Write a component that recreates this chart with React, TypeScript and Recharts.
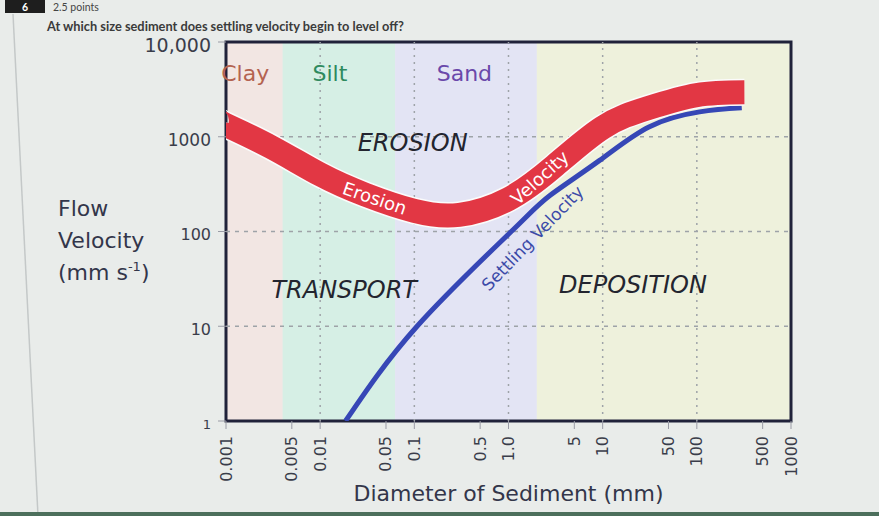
import React from 'react';
import {
  ComposedChart, Line, XAxis, YAxis, ReferenceArea, ReferenceLine, ReferenceDot,
} from 'recharts';

// Grain-size classes (mm)
const bandNames = ['Clay', 'Silt', 'Sand', 'Gravel'];
const bandEdges = [0.001, 0.004, 0.0625, 2, 1000];

// Erosion velocity curve (diameter mm, velocity mm/s)
const erosionD = [0.0008, 0.001, 0.003, 0.01, 0.03, 0.1, 0.3, 1, 3, 10, 30, 100, 320];
const erosionV = [1480, 1330, 780, 400, 245, 165, 150, 220, 480, 1250, 2000, 2750, 2950];

// Settling velocity curve
const settlingD = [0.0186, 0.107, 1.07, 2.75, 9.2, 31, 107, 300];
const settlingV = [1, 10, 100, 240, 560, 1270, 1830, 2020];

// Axis ticks
const xTicks = [0.001, 0.005, 0.01, 0.05, 0.1, 0.5, 1, 5, 10, 50, 100, 500, 1000];
const xTickLabels = ['0.001', '0.005', '0.01', '0.05', '0.1', '0.5', '1.0', '5', '10', '50', '100', '500', '1000'];
const yTicks = [1, 10, 100, 1000, 10000];
const yTickLabels = ['1', '10', '100', '1000', '10,000'];
const xGrid = [0.01, 0.1, 1, 10, 100];
const yGrid = [10, 100, 1000];

const erosionData = erosionD.map((d, i) => ({ d, v: erosionV[i] }));
const settlingData = settlingD.map((d, i) => ({ d, v: settlingV[i] }));

const bandFills = ['#f2e6e3', '#d6efe5', '#e3e4f4', '#eef1dc'];
const FONT = '"DejaVu Sans", Verdana, sans-serif';

const XTick = (p: any) => {
  const i = xTicks.indexOf(p.payload.value);
  return (
    <g transform={`translate(${p.x},${p.y + 3})`}>
      <text transform="rotate(-90)" textAnchor="end" dominantBaseline="central" x={0} y={0}
        fontFamily={FONT} fontSize={16} fill="#3a3d4a">{xTickLabels[i]}</text>
    </g>
  );
};

const YTick = (p: any) => {
  const i = yTicks.indexOf(p.payload.value);
  const fs = i === 4 ? 19 : i === 3 ? 17 : i === 0 ? 13 : 16;
  return (
    <text x={p.x} y={p.y + 3} textAnchor="end" dominantBaseline="central"
      fontFamily={FONT} fontSize={fs} fill="#3a3d4a">{yTickLabels[i]}</text>
  );
};

const label = (txt: string, opts: { size: number; color: string; angle?: number; italic?: boolean; weight?: number }) =>
  (p: any) => (
    <text x={p.cx} y={p.cy} textAnchor="middle" dominantBaseline="central"
      transform={`rotate(${opts.angle || 0} ${p.cx} ${p.cy})`}
      fontFamily={FONT} fontSize={opts.size} fill={opts.color}
      fontStyle={opts.italic ? 'italic' : 'normal'} fontWeight={opts.weight || 400}>{txt}</text>
  );

const YLabel = () => (
  <text x={58} fontFamily={FONT} fontSize={22} fill="#33364a">
    <tspan x={58} y={216}>Flow</tspan>
    <tspan x={58} y={248}>Velocity</tspan>
    <tspan x={58} y={280}>(mm s</tspan>
    <tspan fontSize={13} dy={-9}>-1</tspan>
    <tspan dy={9}>)</tspan>
  </text>
);

export default function App() {
  return (
    <div style={{ position: 'absolute', left: 0, top: 0, width: 879, height: 516, background: '#e9ecea', overflow: 'hidden' }}>
      <svg width={879} height={516} style={{ position: 'absolute', left: 0, top: 0 }}>
        <line x1={13} y1={14} x2={38} y2={516} stroke="#c4c8c8" strokeWidth={1.5} />
        <rect x={5} y={0} width={40} height={13} fill="#1e1e1e" />
        <text x={22} y={11} fontFamily="Lato, sans-serif" fontWeight={700} fontSize={10.5} fill="#fff">6</text>
        <text x={53} y={11} fontFamily="Lato, sans-serif" fontSize={10.5} fill="#444">2.5 points</text>
        <text x={47} y={31} fontFamily="Lato, sans-serif" fontWeight={700} fontSize={12.8} fill="#3b3b3b">
          At which size sediment does settling velocity begin to level off?
        </text>
        <rect x={0} y={512} width={879} height={4} fill="#4c6f5c" />
      </svg>
      <div style={{ position: 'absolute', left: 0, top: 0 }}>
        <ComposedChart width={879} height={516} margin={{ top: 42, right: 88, bottom: 0, left: 0 }}>
          <XAxis dataKey="d" type="number" scale="log" domain={[0.001, 1000]} allowDataOverflow
            ticks={xTicks} interval={0} tick={<XTick />} height={95} tickSize={8} tickMargin={4}
            axisLine={false} tickLine={{ stroke: '#9a9ca6' }}
            label={{ value: 'Diameter of Sediment (mm)', position: 'insideBottom', offset: 15, fontFamily: FONT, fontSize: 22, fill: '#33364a' }} />
          <YAxis dataKey="v" type="number" scale="log" domain={[1, 10000]} allowDataOverflow
            ticks={yTicks} interval={0} tick={<YTick />} width={226} tickSize={8} tickMargin={7}
            axisLine={false} tickLine={{ stroke: '#9a9ca6' }}
            label={{ content: () => <YLabel /> }} />
          {bandNames.map((n, i) => (
            <ReferenceArea key={n} x1={bandEdges[i]} x2={bandEdges[i + 1]} y1={1} y2={10000}
              fill={bandFills[i]} fillOpacity={1} stroke="none" ifOverflow="visible" />
          ))}
          {xGrid.map((x) => (
            <ReferenceLine key={'x' + x} x={x} stroke="#9ea3a8" strokeWidth={1.5} strokeDasharray="2 5" />
          ))}
          {yGrid.map((y) => (
            <ReferenceLine key={'y' + y} y={y} stroke="#9ea3a8" strokeWidth={1.5} strokeDasharray="4 5" />
          ))}
          <ReferenceDot x={0.0016} y={4700} r={1} shape={label('Clay', { size: 22, color: '#b46350' })} />
          <ReferenceDot x={0.0127} y={4700} r={1} shape={label('Silt', { size: 22, color: '#2f8a5e' })} />
          <ReferenceDot x={0.34} y={4700} r={1} shape={label('Sand', { size: 22, color: '#6a48aa' })} />
          <ReferenceDot x={0.096} y={860} r={1} shape={label('EROSION', { size: 24, color: '#23252f', italic: true })} />
          <ReferenceDot x={0.018} y={24} r={1} shape={label('TRANSPORT', { size: 24, color: '#23252f', italic: true })} />
          <ReferenceDot x={21} y={27} r={1} shape={label('DEPOSITION', { size: 24, color: '#23252f', italic: true })} />
          <Line data={settlingData} dataKey="v" type="natural" stroke="#3647b6" strokeWidth={5}
            dot={false} isAnimationActive={false} />
          <Line data={erosionData} dataKey="v" type="natural" stroke="#fbfbfb" strokeWidth={27}
            dot={false} isAnimationActive={false} strokeLinecap="butt" />
          <Line data={erosionData} dataKey="v" type="natural" stroke="#e23744" strokeWidth={24}
            dot={false} isAnimationActive={false} strokeLinecap="butt" />
          <ReferenceDot x={0.038} y={225} r={1} shape={label('Erosion', { size: 18, color: '#ffffff', angle: 19 })} />
          <ReferenceDot x={2.14} y={370} r={1} shape={label('Velocity', { size: 18, color: '#ffffff', angle: -42 })} />
          <ReferenceDot x={1.8} y={85} r={1} shape={label('Settling Velocity', { size: 17, color: '#3c4aa8', angle: -46 })} />
          <ReferenceArea x1={0.001} x2={1000} y1={1} y2={10000} fill="none" stroke="#20223a" strokeWidth={3} ifOverflow="visible" />
        </ComposedChart>
      </div>
    </div>
  );
}
